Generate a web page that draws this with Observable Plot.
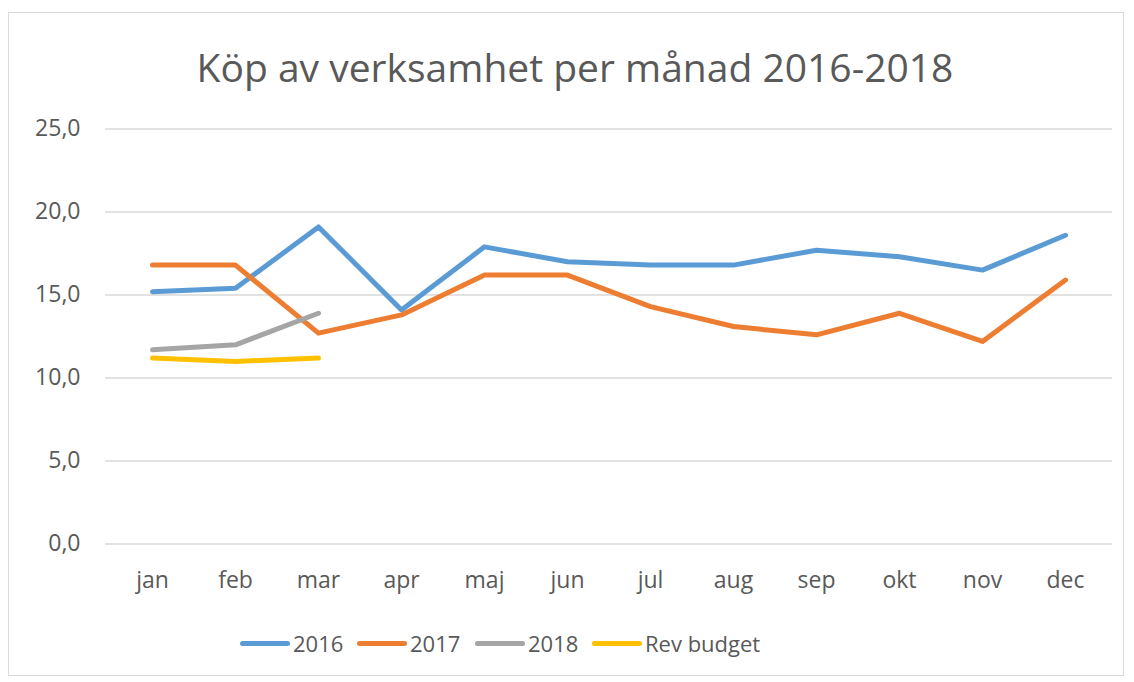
<!DOCTYPE html>
<html><head><meta charset="utf-8">
<script src="https://cdn.jsdelivr.net/npm/d3@7"></script>
<script src="https://cdn.jsdelivr.net/npm/@observablehq/plot@0.6"></script>
<style>
body{margin:0;background:#fff;font-family:"Open Sans",sans-serif;color:#595959;}
#frame{position:absolute;left:8px;top:12px;width:1116px;height:664px;border:1px solid #d9d9d9;box-sizing:border-box;}
#title{position:absolute;left:0;top:0;width:1134px;height:103px;font-size:39px;line-height:1;}
#title span{position:absolute;left:16px;right:0;top:47px;text-align:center;}
#chart{position:absolute;left:9px;top:103px;}
#legend{position:absolute;left:0;top:628px;width:1134px;height:30px;font-size:22px;}
.item{position:absolute;top:0;display:flex;align-items:center;gap:3px;height:30px;}
.sw{width:50px;height:5px;border-radius:3px;}
</style></head>
<body>
<div id="frame"></div>
<div id="title"><span>Köp av verksamhet per månad 2016-2018</span></div>
<div id="chart"></div>
<div id="legend"></div>
<script>
const months = ["jan","feb","mar","apr","maj","jun","jul","aug","sep","okt","nov","dec"];
const v2016 = [15.2,15.4,19.1,14.1,17.9,17.0,16.8,16.8,17.7,17.3,16.5,18.6];
const v2017 = [16.8,16.8,12.7,13.8,16.2,16.2,14.3,13.1,12.6,13.9,12.2,15.9];
const v2018 = [11.7,12.0,13.9];
const vBudget = [11.2,11.0,11.2];
const seriesNames = ["2016","2017","2018","Rev budget"];
const seriesColors = ["#5B9BD5","#ED7D31","#A5A5A5","#FFC000"];
const yTicks = [0,5,10,15,20,25];

const data = [];
[v2016,v2017,v2018,vBudget].forEach((arr,i)=>arr.forEach((v,j)=>data.push({series:seriesNames[i],month:months[j],value:v})));

const fmt = d => d3.format(".1f")(d).replace(".", ",");

const plot = Plot.plot({
  width: 1116,
  height: 500,
  marginLeft: 96,
  marginRight: 13,
  marginTop: 25.5,
  marginBottom: 59.5,
  style: {fontFamily: "Open Sans, sans-serif", fontSize: "23px", color: "#595959", background: "transparent"},
  x: {type: "point", domain: months, padding: 0.5, align: 0.5, label: null},
  y: {domain: [0,25], ticks: yTicks, label: null},
  color: {domain: seriesNames, range: seriesColors},
  marks: [
    Plot.ruleY(yTicks, {stroke: "#d9d9d9", strokeWidth: 1.6}),
    Plot.axisY({ticks: yTicks, tickSize: 0, tickPadding: 25, tickFormat: fmt, fill: "#595959", label: null}),
    Plot.axisX({tickSize: 0, tickPadding: 28, fill: "#595959", label: null}),
    Plot.line(data, {x: "month", y: "value", z: "series", stroke: "series", strokeWidth: 5, strokeLinecap: "round", strokeLinejoin: "round"})
  ]
});
document.getElementById("chart").appendChild(plot);

const legendLefts = [240, 357, 475, 592];
const leg = document.getElementById("legend");
seriesNames.forEach((n,i)=>{
  const it = document.createElement("div"); it.className="item"; it.style.left = legendLefts[i] + "px";
  const sw = document.createElement("div"); sw.className="sw"; sw.style.background=seriesColors[i];
  const t = document.createElement("span"); t.textContent=n;
  it.appendChild(sw); it.appendChild(t); leg.appendChild(it);
});
</script>
</body></html>
